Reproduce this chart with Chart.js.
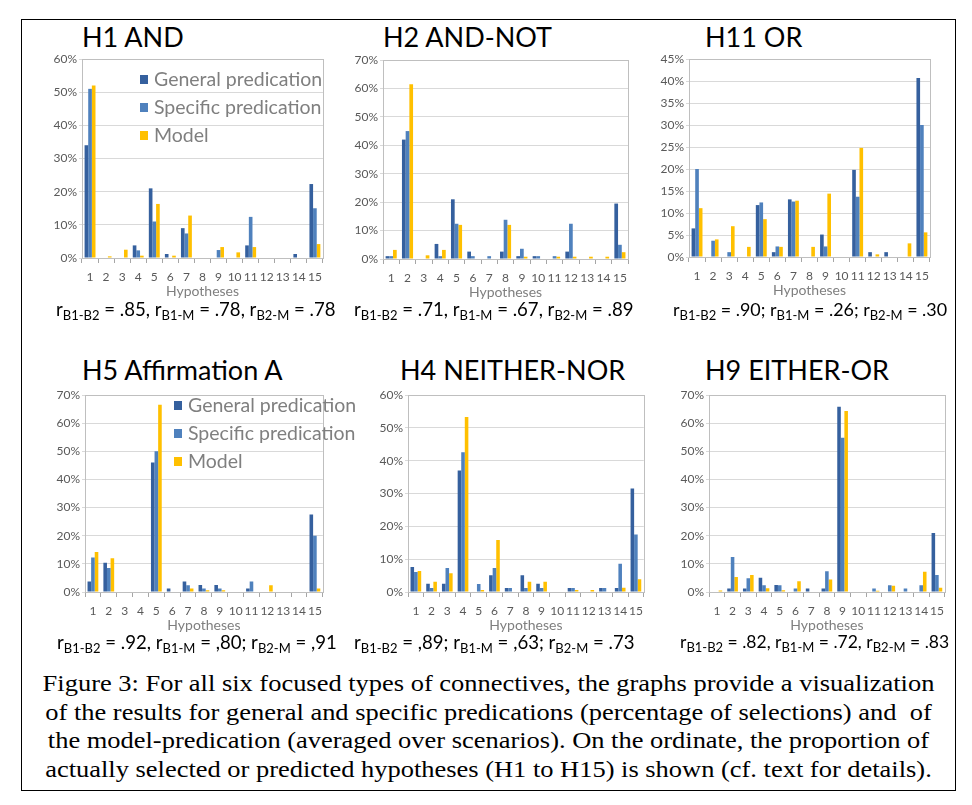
<!DOCTYPE html>
<html>
<head>
<meta charset="utf-8">
<script src="https://cdn.jsdelivr.net/npm/chart.js@4.4.1/dist/chart.umd.min.js"></script>
<style>
  body { margin: 0; background: #fff; width: 972px; height: 805px; position: relative; overflow: hidden; }
  .frame { position: absolute; left: 21px; top: 19px; width: 933px; height: 770px; border: 1px solid #000; }
  canvas { position: absolute; }
  .titel { position: absolute; font-family: Lato, sans-serif; font-size: 27px; color: #000; white-space: nowrap; line-height: 30px; }
  .r { position: absolute; font-family: Lato, sans-serif; font-size: 18.6px; color: #000; white-space: nowrap; line-height: 24px; }
  .r.rechts { font-size: 17.9px; }
  .r.rechts2 { font-size: 17.5px; }
  .r sub { font-size: 13px; vertical-align: -4px; line-height: 0; }
  .leg { position: absolute; font-family: Lato, sans-serif; font-size: 19.5px; color: #7f7f7f; white-space: nowrap; }
  .leg div { height: 28px; line-height: 28px; }
  .leg span { display: inline-block; width: 8px; height: 9px; margin-right: 6px; vertical-align: 2px; }
  .caption { position: absolute; left: 22px; top: 670px; width: 933px; text-align: center; font-family: "Liberation Serif", serif; font-size: 23px; line-height: 28.7px; color: #000; }
  .caption div { transform: scaleX(1.15); transform-origin: center; white-space: nowrap; }
</style>
</head>
<body>
<div class="frame"></div>

<div class="titel" style="left:82px; top:22px;">H1 AND</div>
<div class="titel" style="left:383px; top:22px;">H2 AND-NOT</div>
<div class="titel" style="left:705px; top:22px;">H11 OR</div>
<div class="titel" style="left:82px; top:355px;">H5 Affirmation A</div>
<div class="titel" style="left:400px; top:355px;">H4 NEITHER-NOR</div>
<div class="titel" style="left:705px; top:355px;">H9 EITHER-OR</div>

<canvas id="h1"></canvas>
<canvas id="h2"></canvas>
<canvas id="h11"></canvas>
<canvas id="h5"></canvas>
<canvas id="h4"></canvas>
<canvas id="h9"></canvas>

<div class="leg" style="left:140px; top:65px;">
  <div><span style="background:#35609E"></span>General predication</div>
  <div><span style="background:#4F81BD"></span>Specific predication</div>
  <div><span style="background:#FFC000"></span>Model</div>
</div>
<div class="leg" style="left:174px; top:391px;">
  <div><span style="background:#35609E"></span>General predication</div>
  <div><span style="background:#4F81BD"></span>Specific predication</div>
  <div><span style="background:#FFC000"></span>Model</div>
</div>

<div class="r" style="left:56px; top:297px;">r<sub>B1-B2</sub> = .85, r<sub>B1-M</sub> = .78, r<sub>B2-M</sub> = .78</div>
<div class="r" style="left:354px; top:297px;">r<sub>B1-B2</sub> = .71, r<sub>B1-M</sub> = .67, r<sub>B2-M</sub> = .89</div>
<div class="r rechts" style="left:673px; top:297px;">r<sub>B1-B2</sub> = .90; r<sub>B1-M</sub> = .26; r<sub>B2-M</sub> = .30</div>
<div class="r" style="left:57px; top:630px;">r<sub>B1-B2</sub> = .92, r<sub>B1-M</sub> = ,80; r<sub>B2-M</sub> = ,91</div>
<div class="r" style="left:354px; top:630px;">r<sub>B1-B2</sub> = ,89; r<sub>B1-M</sub> = ,63; r<sub>B2-M</sub> = .73</div>
<div class="r rechts2" style="left:680px; top:630px;">r<sub>B1-B2</sub> = .82, r<sub>B1-M</sub> = .72, r<sub>B2-M</sub> = .83</div>

<div class="caption">
<div>Figure 3: For all six focused types of connectives, the graphs provide a visualization</div>
<div>of the results for general and specific predications (percentage of selections) and&nbsp; of</div>
<div>the model-predication (averaged over scenarios). On the ordinate, the proportion of</div>
<div>actually selected or predicted hypotheses (H1 to H15) is shown (cf. text for details).</div>
</div>

<script>
/* Hypothesen H1..H15 auf der x-Achse */
const hypotheses = ['1','2','3','4','5','6','7','8','9','10','11','12','13','14','15'];

/* H1 AND */
const h1_general  = [34, 0, 0, 3.8, 21, 1.2, 9, 0, 0, 0, 3.8, 0, 0, 1.2, 22.3];
const h1_specific = [51, 0, 0, 2.3, 11, 0, 7.4, 0, 2.4, 0, 12.4, 0, 0, 0, 15];
const h1_model    = [52, 0.5, 2.5, 0.7, 16.3, 0.7, 12.8, 0, 3.3, 1.7, 3.3, 0, 0, 0, 4.2];

/* H2 AND-NOT */
const h2_general  = [1, 42, 0, 5.3, 21, 2.6, 0, 2.6, 1, 1, 0, 2.6, 0, 0, 19.5];
const h2_specific = [1, 45, 0, 1, 12.4, 1, 1, 13.8, 3.6, 1, 1, 12.4, 0, 0, 5];
const h2_model    = [3.2, 61.5, 1.3, 3.2, 12, 0, 0, 12, 0.8, 0, 0.8, 0.8, 0.8, 0.8, 2.4];

/* H11 OR */
const h11_general  = [6.5, 0, 0, 0, 11.8, 1.1, 13.1, 0, 5.1, 0, 19.8, 1.1, 1.1, 0, 40.7];
const h11_specific = [20, 3.7, 1.1, 0, 12.4, 2.4, 12.6, 0, 2.4, 0, 13.7, 0, 0, 0, 30];
const h11_model    = [11.1, 4, 7, 2.3, 8.6, 2.3, 12.8, 2.3, 14.4, 0, 24.8, 0.6, 0, 3.1, 5.6];

/* H5 Affirmation A */
const h5_general  = [3.7, 10.4, 0, 0, 46, 1.2, 3.7, 2.5, 2.5, 0, 1.2, 0, 0, 0, 27.5];
const h5_specific = [12.3, 8.5, 0, 0, 50, 0, 2.4, 1.2, 1.2, 0, 3.7, 0, 0, 0, 20];
const h5_model    = [14.2, 12, 0, 0, 66.5, 0, 1.2, 0.6, 0.6, 0, 0, 2.4, 0, 0, 1.2];

/* H4 NEITHER-NOR */
const h4_general  = [7.6, 2.5, 2.5, 37, 0, 5.1, 1.2, 5.1, 2.5, 0, 1.2, 0, 1.2, 1.2, 31.5];
const h4_specific = [6.1, 1.2, 7.3, 42.6, 2.4, 7.3, 1.2, 1.2, 1.2, 0, 1.2, 0, 1.2, 8.6, 17.5];
const h4_model    = [6.4, 3.1, 5.7, 53.3, 0.6, 15.8, 0, 3.1, 3.1, 0, 0.6, 0.6, 0, 1.3, 3.9];

/* H9 EITHER-OR */
const h9_general  = [0, 1.2, 1.2, 5.1, 2.5, 0, 1.2, 1.2, 65.8, 0, 0, 0, 0, 0, 21];
const h9_specific = [0, 12.4, 4.9, 2.4, 2.4, 1.2, 0, 7.4, 54.8, 0, 1.2, 2.4, 1.2, 2.4, 6];
const h9_model    = [0.5, 5.3, 6, 1.3, 0.6, 3.8, 0, 4.4, 64.3, 0, 0.4, 2.2, 0, 7.2, 1.5];

const cor_general = '#35609E';
const cor_specific = '#4F81BD';
const cor_model = '#FFC000';

/* moldura cinza em volta da area do grafico */
const moldura = {
  id: 'moldura',
  afterDatasetsDraw(chart) {
    const a = chart.chartArea, ctx = chart.ctx;
    ctx.save();
    ctx.strokeStyle = '#bfbfbf';
    ctx.lineWidth = 1;
    ctx.strokeRect(Math.round(a.left) + 0.5, Math.round(a.top) + 0.5, Math.round(a.right - a.left), Math.round(a.bottom - a.top));
    ctx.restore();
  }
};

function grafico(id, plotL, plotT, plotR, plotB, general, specific, model, yMax, yStep) {
  const el = document.getElementById(id);
  const w = plotR - plotL + 44, h = plotB - plotT + 52;
  el.style.left = (plotL - 40) + 'px';
  el.style.top = (plotT - 10) + 'px';
  el.width = w; el.height = h;
  el.style.width = w + 'px'; el.style.height = h + 'px';

  return new Chart(el, {
    type: 'bar',
    data: {
      labels: hypotheses,
      datasets: [
        { label: 'General predication', data: general, backgroundColor: cor_general },
        { label: 'Specific predication', data: specific, backgroundColor: cor_specific },
        { label: 'Model', data: model, backgroundColor: cor_model }
      ]
    },
    options: {
      responsive: false,
      animation: false,
      devicePixelRatio: 1,
      layout: { padding: { top: 10, right: 4, left: 0, bottom: 0 } },
      datasets: { bar: { categoryPercentage: 0.68, barPercentage: 1 } },
      plugins: { legend: { display: false }, tooltip: { enabled: false } },
      scales: {
        x: {
          afterFit(s) { s.height = 42; },
          grid: { offset: true, drawOnChartArea: false, drawTicks: true, tickLength: 5, color: '#a6a6a6' },
          border: { color: '#a6a6a6' },
          ticks: { font: { family: 'Lato', size: 12 }, color: '#595959', padding: 7, maxRotation: 0, autoSkip: false },
          title: { display: true, text: 'Hypotheses', font: { family: 'Lato', size: 14 }, color: '#7f7f7f', padding: { top: 0, bottom: 0 } }
        },
        y: {
          min: 0, max: yMax,
          afterFit(s) { s.width = 40; },
          grid: { color: '#d9d9d9', tickLength: 3, lineWidth: 1 },
          border: { color: '#a6a6a6' },
          ticks: { stepSize: yStep, font: { family: 'Lato', size: 12 }, color: '#595959', padding: 2, callback: v => v + '%' }
        }
      }
    },
    plugins: [moldura]
  });
}

grafico('h1', 82, 59, 325, 258, h1_general, h1_specific, h1_model, 60, 10);
grafico('h2', 383, 60, 630, 259, h2_general, h2_specific, h2_model, 70, 10);
grafico('h11', 689, 59, 932, 257, h11_general, h11_specific, h11_model, 45, 5);
grafico('h5', 85, 395, 325, 592, h5_general, h5_specific, h5_model, 70, 10);
grafico('h4', 408, 395, 646, 592, h4_general, h4_specific, h4_model, 60, 10);
grafico('h9', 709, 395, 947, 592, h9_general, h9_specific, h9_model, 70, 10);
</script>
</body>
</html>
